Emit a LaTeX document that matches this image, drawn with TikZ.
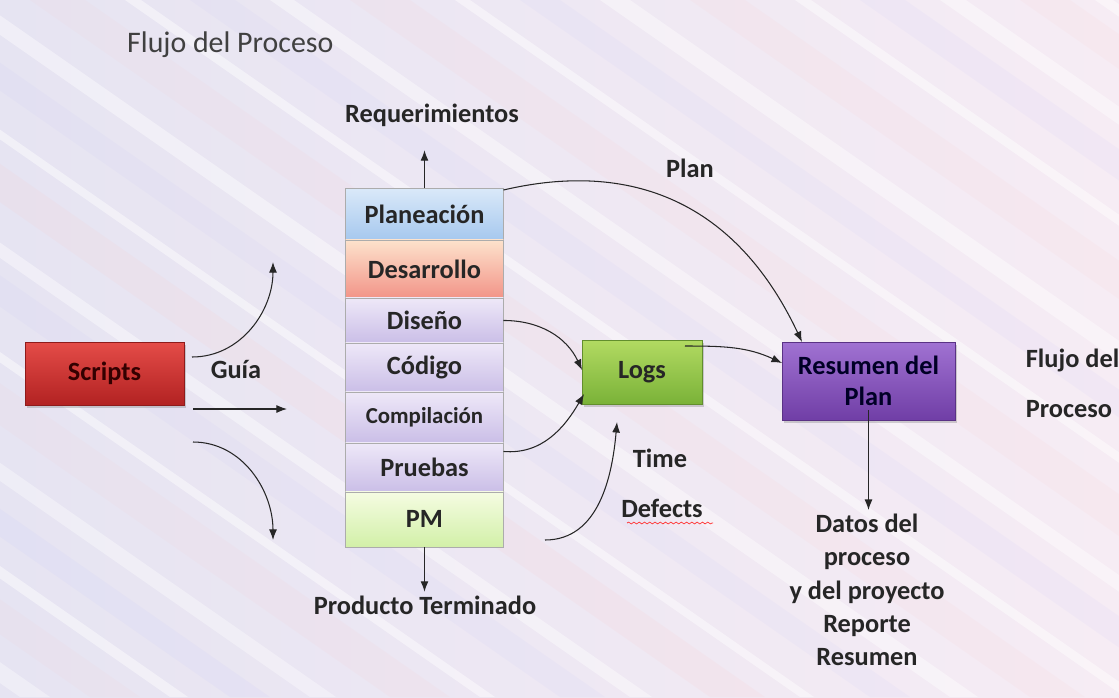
\documentclass[tikz,border=0pt]{standalone}
\usepackage{fontspec}
\setmainfont{Carlito}
\usetikzlibrary{arrows.meta,positioning,shadows,decorations.pathmorphing}

\definecolor{bgleft}{RGB}{230,228,242}
\definecolor{bgright}{RGB}{246,236,244}
\definecolor{rojoA}{RGB}{228,76,72}
\definecolor{rojoB}{RGB}{178,34,34}
\definecolor{azulA}{RGB}{218,233,249}
\definecolor{azulB}{RGB}{166,200,238}
\definecolor{salmonA}{RGB}{253,226,204}
\definecolor{salmonB}{RGB}{242,148,136}
\definecolor{lilaA}{RGB}{238,232,248}
\definecolor{lilaB}{RGB}{202,190,231}
\definecolor{verdeA}{RGB}{245,252,226}
\definecolor{verdeB}{RGB}{210,240,168}
\definecolor{logsA}{RGB}{178,218,98}
\definecolor{logsB}{RGB}{122,178,56}
\definecolor{moradoA}{RGB}{160,114,210}
\definecolor{moradoB}{RGB}{112,62,166}

\begin{document}
\begin{tikzpicture}[
    x=0.02cm, y=-0.02cm,
    lbl/.style={font=\fontsize{15}{19}\selectfont\bfseries, text=black!85, align=center, inner sep=2pt},
    stage/.style={rectangle, draw=gray!65, minimum width=3.16cm, inner sep=0pt, outer sep=0pt,
        font=\fontsize{15}{18}\selectfont\bfseries, text=black!85},
    box/.style={rectangle, draw=#1, outer sep=0pt, align=center,
        font=\fontsize{15}{18}\selectfont\bfseries,
        drop shadow={opacity=0.35, shadow xshift=1pt, shadow yshift=-1.5pt}},
    arrow/.style={-{Latex[length=6pt,width=4.5pt]}, line width=0.6pt, draw=black!85}
]
    % fondo
    \useasboundingbox (0,0) rectangle (1119,697);
    \shade[left color=bgleft, right color=bgright] (0,0) rectangle (1119,697);
    \begin{scope}
        \clip (0,0) rectangle (1119,697);
        \foreach \o/\w/\c/\a in {-980/30/white/0.35, -910/50/pink/0.08, -830/18/white/0.45,
            -770/40/blue!30/0.08, -690/26/white/0.35, -610/60/pink/0.08, -520/15/white/0.45,
            -440/45/blue!30/0.07, -370/22/white/0.4, -290/55/pink/0.1, -200/14/white/0.45,
            -130/40/blue!30/0.07, -50/28/white/0.4, 30/55/pink/0.08, 125/16/white/0.45,
            190/45/blue!30/0.07, 270/24/white/0.4, 350/60/pink/0.08, 455/15/white/0.45,
            520/40/blue!30/0.07, 600/30/white/0.4, 690/55/pink/0.08, 795/16/white/0.45,
            860/45/blue!30/0.07, 940/26/white/0.4, 1020/50/pink/0.08, 1095/18/white/0.45}
            \fill[\c, opacity=\a] (\o,0) -- (\o+\w,0) -- (\o+\w+1000,697) -- (\o+1000,697) -- cycle;
    \end{scope}

    \node[anchor=west, font=\fontsize{17}{20}\selectfont, text=black!75] (titulo) at (121,45) {Flujo del Proceso};

    % guia de scripts
    \node[box=rojoB!80!black, top color=rojoA, bottom color=rojoB, text=black!80!red,
        minimum width=3.18cm, minimum height=1.26cm] (scripts) at (104.5,373.5) {Scripts};
    \node[lbl] (guia) at (236,369) {Guía};
    \coordinate (gA) at (192,357);
    \coordinate (gAe) at (273,262);
    \coordinate (gB) at (193,409);
    \coordinate (gBe) at (287,409);
    \coordinate (gC) at (193,442);
    \coordinate (gCe) at (273,540);
    \draw[arrow] (gA) to[out=0, in=-90] (gAe);
    \draw[arrow] (gB) -- (gBe);
    \draw[arrow] (gC) to[out=0, in=90] (gCe);

    % fases
    \node[stage, top color=azulA, bottom color=azulB, minimum height=1.04cm, anchor=north] (plan) at (424.5,188) {Planeación};
    \node[stage, top color=salmonA, bottom color=salmonB, minimum height=1.16cm, below=0pt of plan] (desa) {Desarrollo};
    \node[stage, top color=lilaA, bottom color=lilaB, minimum height=0.90cm, below=0pt of desa] (diseno) {Diseño};
    \node[stage, top color=lilaA, bottom color=lilaB, minimum height=0.98cm, below=0pt of diseno] (codigo) {Código};
    \node[stage, top color=lilaA, bottom color=lilaB, minimum height=1.02cm, below=0pt of codigo,
        font=\fontsize{13}{16}\selectfont\bfseries] (compila) {Compilación};
    \node[stage, top color=lilaA, bottom color=lilaB, minimum height=0.98cm, below=0pt of compila] (pruebas) {Pruebas};
    \node[stage, top color=verdeA, bottom color=verdeB, minimum height=1.10cm, below=0pt of pruebas] (pm) {PM};

    \node[lbl] (req) at (432,115) {Requerimientos};
    \node[lbl] (prod) at (425,605) {Producto Terminado};
    \draw[arrow] (plan.north) -- ([yshift=-0.4cm]plan.north |- req.south);
    \draw[arrow] (pm.south) -- (pm.south |- prod.north);

    % logs y resumen
    \node[box=logsB!80!black, top color=logsA, bottom color=logsB, text=black!85,
        minimum width=2.4cm, minimum height=1.28cm] (logs) at (642,372) {Logs};
    \node[box=moradoB!80!black, top color=moradoA, bottom color=moradoB, text=black!85!blue,
        minimum width=3.46cm, minimum height=1.56cm] (resumen) at (868.5,381) {Resumen del\\Plan};

    \node[lbl] (plantxt) at (690,168) {Plan};
    \draw[arrow] ([yshift=-0.04cm]plan.north east) .. controls (640,158) and (740,210) .. ([xshift=0.4cm]resumen.north west);

    \draw[arrow] (diseno.east) to[out=0, in=115] ([yshift=0.04cm]logs.west);
    \draw[arrow] ([yshift=0.32cm]pruebas.east) to[out=-5, in=-120] ([xshift=0.04cm,yshift=-0.44cm]logs.west);
    \coordinate (tdA) at (545,540);
    \coordinate (tdAe) at (617,422);
    \draw[arrow] (tdA) to[out=0, in=-95] (tdAe);
    \draw[arrow] ([xshift=-0.34cm,yshift=-0.12cm]logs.north east) to[out=0, in=155] ([yshift=0.36cm]resumen.west);

    \node[lbl] (time) at (660,458) {Time};
    \node[lbl] (defects) at (662,508) {Defects};
    \draw[red!80, line width=0.4pt, decorate, decoration={snake, amplitude=0.5pt, segment length=3pt}]
        (627,523) -- (713,523);

    \node[lbl] (datos) at (867,590) {Datos del\\proceso\\y del proyecto\\Reporte\\Resumen};
    \draw[arrow] ([yshift=0.2cm]resumen.south) -- (resumen.south |- datos.north);

    \node[lbl, align=left, anchor=west, font=\fontsize{15}{28.5}\selectfont\bfseries] (flujo) at (1022,383) {Flujo del\\Proceso};
\end{tikzpicture}
\end{document}
